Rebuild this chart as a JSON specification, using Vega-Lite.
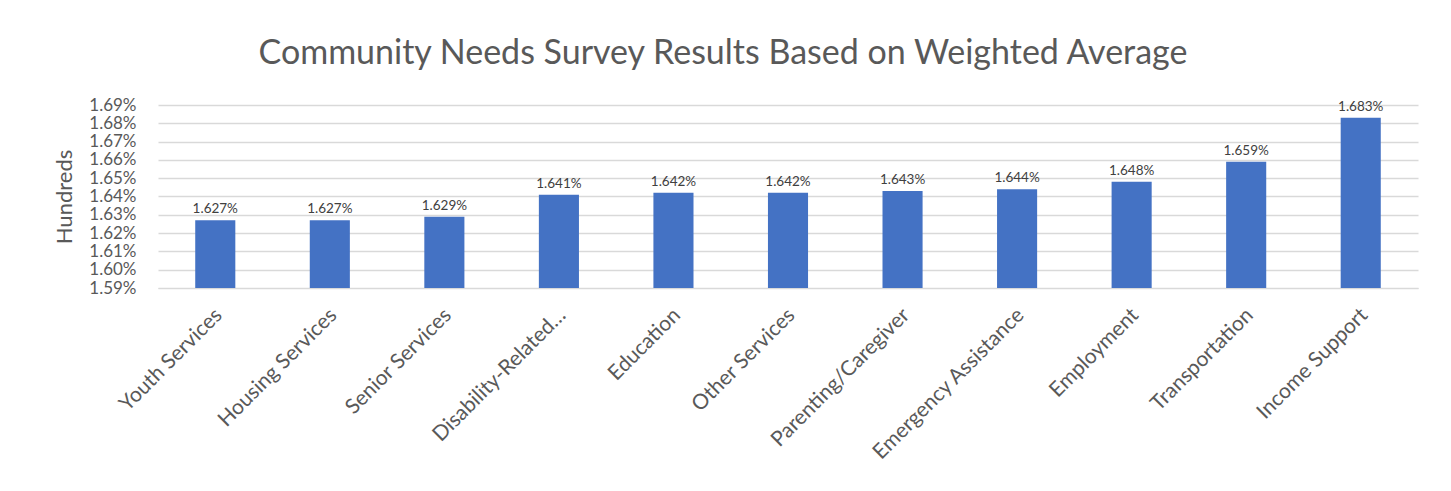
{
  "$schema": "https://vega.github.io/schema/vega-lite/v6.json",
  "autosize": "none",
  "width": 1260,
  "height": 183,
  "padding": {"left": 158, "top": 105, "right": 33, "bottom": 203},
  "background": "white",
  "title": {
    "text": "Community Needs Survey Results Based on Weighted Average",
    "font": "Lato",
    "fontSize": 34,
    "fontWeight": "normal",
    "color": "#595959",
    "anchor": "middle",
    "dx": -65,
    "offset": 25
  },
  "data": {
    "values": [
      {"category": "Youth Services", "value": 0.01627},
      {"category": "Housing Services", "value": 0.01627},
      {"category": "Senior Services", "value": 0.01629},
      {"category": "Disability-Related…", "value": 0.01641},
      {"category": "Education", "value": 0.01642},
      {"category": "Other Services", "value": 0.01642},
      {"category": "Parenting/Caregiver", "value": 0.01643},
      {"category": "Emergency Assistance", "value": 0.01644},
      {"category": "Employment", "value": 0.01648},
      {"category": "Transportation", "value": 0.01659},
      {"category": "Income Support", "value": 0.01683}
    ]
  },
  "encoding": {
    "x": {
      "field": "category",
      "type": "nominal",
      "sort": null,
      "scale": {"paddingInner": 0.65, "paddingOuter": 0.325},
      "axis": {
        "title": null,
        "labelAngle": -45,
        "labelFont": "Lato",
        "labelFontSize": 21,
        "labelColor": "#595959",
        "labelPadding": 16,
        "labelOffset": -4,
        "ticks": false,
        "domainColor": "#d9d9d9",
        "domainWidth": 1,
        "labelLimit": 300
      }
    },
    "y": {
      "field": "value",
      "type": "quantitative",
      "scale": {"domain": [0.0159, 0.0169], "zero": false, "nice": false},
      "axis": {
        "title": "Hundreds",
        "titleFont": "Lato",
        "titleFontSize": 22,
        "titleFontWeight": "normal",
        "titleColor": "#595959",
        "titlePadding": 12,
        "format": ".2%",
        "values": [0.0159, 0.016, 0.0161, 0.0162, 0.0163, 0.0164, 0.0165, 0.0166, 0.0167, 0.0168, 0.0169],
        "labelOverlap": false,
        "labelFont": "Lato",
        "labelFontSize": 17,
        "labelColor": "#595959",
        "labelPadding": 22,
        "ticks": false,
        "domain": false,
        "gridColor": "#d9d9d9",
        "gridWidth": 1.3
      }
    }
  },
  "layer": [
    {"mark": {"type": "bar", "color": "#4472c4", "clip": true}},
    {
      "mark": {"type": "text", "baseline": "bottom", "dy": -4, "font": "Lato", "fontSize": 13.5, "color": "#404040"},
      "encoding": {"text": {"field": "value", "type": "quantitative", "format": ".3%"}}
    }
  ],
  "config": {"view": {"stroke": null}}
}
